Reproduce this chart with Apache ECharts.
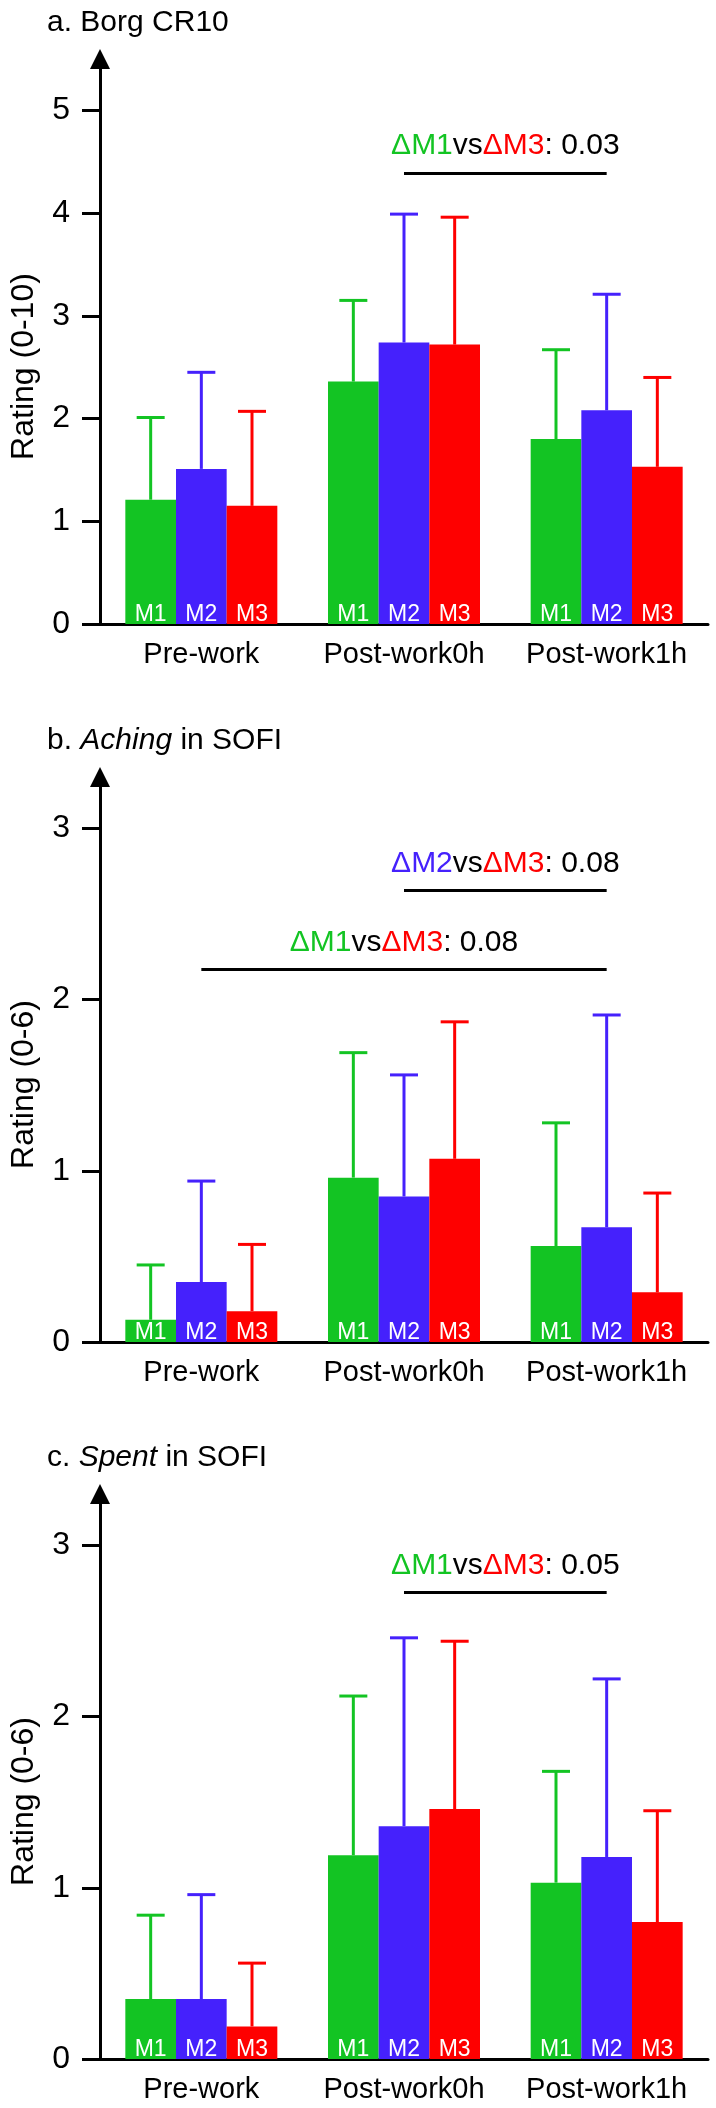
<!DOCTYPE html>
<html>
<head>
<meta charset="utf-8">
<script src="https://cdn.jsdelivr.net/npm/echarts@6/dist/echarts.min.js"></script>
<style>
  html, body { margin: 0; padding: 0; background: #fff; }
  #chart { width: 716px; height: 2108px; }
</style>
</head>
<body>
<div id="chart"></div>
<script>
// categories and methods
const categories = ['Pre-work', 'Post-work0h', 'Post-work1h'];
const methods = ['M1', 'M2', 'M3'];

// a. Borg CR10 - means and SD
const borgM1 = [1.21, 2.36, 1.80];
const borgM2 = [1.51, 2.74, 2.08];
const borgM3 = [1.15, 2.72, 1.53];
const borgM1Sd = [0.80, 0.79, 0.87];
const borgM2Sd = [0.94, 1.25, 1.13];
const borgM3Sd = [0.92, 1.24, 0.87];
const borgTicks = [0, 1, 2, 3, 4, 5];
const borgNotes = [{ a: 'M1', b: 'M3', p: '0.03', from: 1, to: 2, y: 4.39 }];

// b. Aching in SOFI
const achingM1 = [0.13, 0.96, 0.56];
const achingM2 = [0.35, 0.85, 0.67];
const achingM3 = [0.18, 1.07, 0.29];
const achingM1Sd = [0.32, 0.73, 0.72];
const achingM2Sd = [0.59, 0.71, 1.24];
const achingM3Sd = [0.39, 0.80, 0.58];
const sofiTicks = [0, 1, 2, 3];
const achingNotes = [
  { a: 'M2', b: 'M3', p: '0.08', from: 1, to: 2, y: 2.636 },
  { a: 'M1', b: 'M3', p: '0.08', from: 0, to: 2, y: 2.175 }
];

// c. Spent in SOFI
const spentM1 = [0.35, 1.19, 1.03];
const spentM2 = [0.35, 1.36, 1.18];
const spentM3 = [0.19, 1.46, 0.80];
const spentM1Sd = [0.49, 0.93, 0.65];
const spentM2Sd = [0.61, 1.10, 1.04];
const spentM3Sd = [0.37, 0.98, 0.65];
const spentNotes = [{ a: 'M1', b: 'M3', p: '0.05', from: 1, to: 2, y: 2.725 }];

const FONT = "'Liberation Sans', Arial, Helvetica, sans-serif";
const COLORS = { M1: '#13c423', M2: '#4521fc', M3: '#fe0000', text: '#000000' };

const panels = [
  {
    title: '{n|a. Borg CR10}', yName: 'Rating (0-10)', top: 59, max: 5.5, ticks: borgTicks,
    means: [borgM1, borgM2, borgM3], sds: [borgM1Sd, borgM2Sd, borgM3Sd], notes: borgNotes
  },
  {
    title: '{n|b. }{i|Aching}{n| in SOFI}', yName: 'Rating (0-6)', top: 777, max: 3.3, ticks: sofiTicks,
    means: [achingM1, achingM2, achingM3], sds: [achingM1Sd, achingM2Sd, achingM3Sd], notes: achingNotes
  },
  {
    title: '{n|c. }{i|Spent}{n| in SOFI}', yName: 'Rating (0-6)', top: 1494, max: 3.3, ticks: sofiTicks,
    means: [spentM1, spentM2, spentM3], sds: [spentM1Sd, spentM2Sd, spentM3Sd], notes: spentNotes
  }
];

const GRID_H = 565;

// error bar (mean -> mean+SD) with a cap, shifted onto the bar of method j
function errRender(j, color) {
  return function (params, api) {
    const band = api.size([1, 0])[0];
    const bw = band * 0.75 / 3;
    const base = api.coord([api.value(0), api.value(1)]);
    const top = api.coord([api.value(0), api.value(2)]);
    const x = base[0] + (j - 1) * bw;
    return {
      type: 'group',
      children: [
        { type: 'line', shape: { x1: x, y1: base[1], x2: x, y2: top[1] }, style: { stroke: color, lineWidth: 3 } },
        { type: 'line', shape: { x1: x - 14, y1: top[1], x2: x + 14, y2: top[1] }, style: { stroke: color, lineWidth: 3 } }
      ]
    };
  };
}

const noteRich = {
  M1: { color: COLORS.M1, fontSize: 30, fontFamily: FONT },
  M2: { color: COLORS.M2, fontSize: 30, fontFamily: FONT },
  M3: { color: COLORS.M3, fontSize: 30, fontFamily: FONT },
  k: { color: COLORS.text, fontSize: 30, fontFamily: FONT }
};

const option = {
  animation: false,
  backgroundColor: '#fff',
  textStyle: { fontFamily: FONT },
  title: [],
  grid: [],
  xAxis: [],
  yAxis: [],
  series: []
};

panels.forEach((p, k) => {
  option.title.push({
    text: p.title,
    left: 47,
    top: p.top - 51,
    padding: 0,
    textStyle: {
      fontWeight: 'normal',
      rich: {
        n: { fontSize: 30, color: COLORS.text, fontFamily: FONT, fontWeight: 'normal' },
        i: { fontSize: 30, color: COLORS.text, fontFamily: FONT, fontWeight: 'normal', fontStyle: 'italic' }
      }
    }
  });

  option.grid.push({ left: 95, right: 8, top: p.top, height: GRID_H });

  option.xAxis.push({
    gridIndex: k,
    type: 'category',
    data: categories,
    axisLine: { lineStyle: { color: COLORS.text, width: 3 } },
    axisTick: { show: false },
    axisLabel: { color: COLORS.text, fontSize: 29, margin: 16, interval: 0 }
  });

  option.yAxis.push({
    gridIndex: k,
    type: 'value',
    min: 0,
    max: p.max,
    interval: 1,
    name: p.yName,
    nameLocation: 'middle',
    nameGap: 60,
    nameTextStyle: { color: COLORS.text, fontSize: 32, padding: [0, 50, 0, 0] },
    axisLine: {
      show: true,
      symbol: ['none', 'triangle'],
      symbolSize: [20, 20],
      lineStyle: { color: COLORS.text, width: 3 }
    },
    axisTick: { show: true, length: 18, customValues: p.ticks, lineStyle: { color: COLORS.text, width: 3 } },
    axisLabel: { color: COLORS.text, fontSize: 32, margin: 30, customValues: p.ticks },
    splitLine: { show: false }
  });

  methods.forEach((m, j) => {
    const bar = {
      type: 'bar',
      name: m,
      xAxisIndex: k,
      yAxisIndex: k,
      data: p.means[j],
      barGap: '0%',
      barCategoryGap: '25%',
      itemStyle: { color: COLORS[m] },
      label: {
        show: true,
        position: 'insideBottom',
        distance: -2,
        formatter: m,
        color: '#fff',
        fontSize: 23
      },
      z: 3
    };
    // the middle bar sits on the category centre, so its markLine spans centre to centre
    if (j === 1) {
      bar.markLine = {
        silent: true,
        symbol: ['none', 'none'],
        lineStyle: { color: COLORS.text, width: 3, type: 'solid' },
        data: p.notes.map(n => [
          {
            coord: [n.from, n.y],
            label: {
              show: true,
              position: 'insideMiddleTop',
              distance: 12,
              formatter: '{' + n.a + '|Δ' + n.a + '}{k|vs}{' + n.b + '|Δ' + n.b + '}{k|: ' + n.p + '}',
              rich: noteRich
            }
          },
          { coord: [n.to, n.y] }
        ])
      };
    }
    option.series.push(bar);

    option.series.push({
      type: 'custom',
      xAxisIndex: k,
      yAxisIndex: k,
      silent: true,
      z: 2,
      data: p.means[j].map((v, i) => [i, v, v + p.sds[j][i]]),
      renderItem: errRender(j, COLORS[m])
    });
  });
});

const chart = echarts.init(document.getElementById('chart'), null, { renderer: 'canvas' });
chart.setOption(option);
</script>
</body>
</html>
